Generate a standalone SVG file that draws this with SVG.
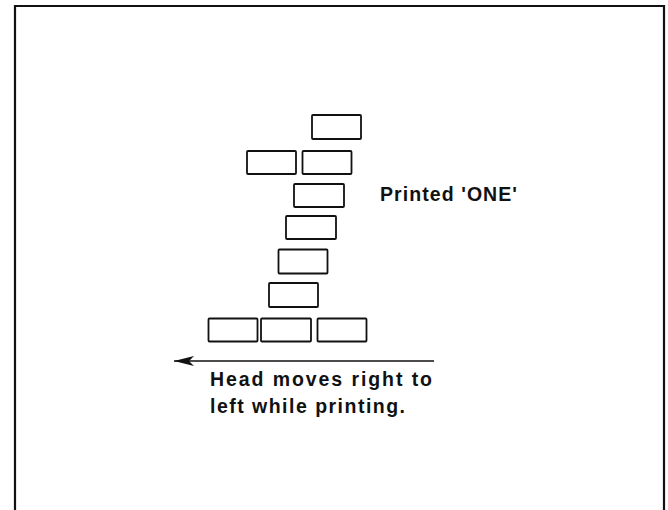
<svg xmlns="http://www.w3.org/2000/svg" width="668" height="510" viewBox="0 0 668 510">
<style>
.box{fill:none;stroke:#111;stroke-width:1.8}
.frame{fill:none;stroke:#111;stroke-width:2.2}
.lbl{font-family:"Liberation Sans",Arial,sans-serif;font-weight:bold;font-size:19.5px;fill:#111}
</style>
<defs>
<marker id="ah" viewBox="0 0 20 10" refX="20" refY="5" markerWidth="20" markerHeight="10" markerUnits="userSpaceOnUse" orient="auto">
<path d="M20,5 L0,0 L5,5 L0,10 Z" fill="#111"/>
</marker>
</defs>
<rect width="668" height="510" fill="#fff"/>
<path class="frame" d="M15,510 V6 H664 V510"/>
<g id="glyph-one">
<rect class="box" x="312" y="115" width="49" height="24" rx="1"/>
<rect class="box" x="247" y="151" width="49" height="23" rx="1"/>
<rect class="box" x="302.5" y="151" width="49" height="23" rx="1"/>
<rect class="box" x="294" y="184" width="50" height="23" rx="1"/>
<rect class="box" x="286" y="216" width="50" height="23" rx="1"/>
<rect class="box" x="278.5" y="249.5" width="49" height="24" rx="1"/>
<rect class="box" x="269" y="283" width="49" height="24" rx="1"/>
<rect class="box" x="208.5" y="318.5" width="49" height="23" rx="1"/>
<rect class="box" x="261" y="318.5" width="50" height="23" rx="1"/>
<rect class="box" x="317.5" y="318.5" width="49" height="23" rx="1"/>
</g>
<g id="connectors">
<line x1="434" y1="361" x2="174" y2="361" stroke="#111" stroke-width="1.6" marker-end="url(#ah)"/>
</g>
<g id="label-printed">
<text class="lbl" x="380" y="201" textLength="137" lengthAdjust="spacing">Printed 'ONE'</text>
</g>
<g id="label-head">
<text class="lbl" x="210" y="386" textLength="222" lengthAdjust="spacing">Head moves right to</text>
<text class="lbl" x="210" y="413" textLength="195" lengthAdjust="spacing">left while printing.</text>
</g>
</svg>
